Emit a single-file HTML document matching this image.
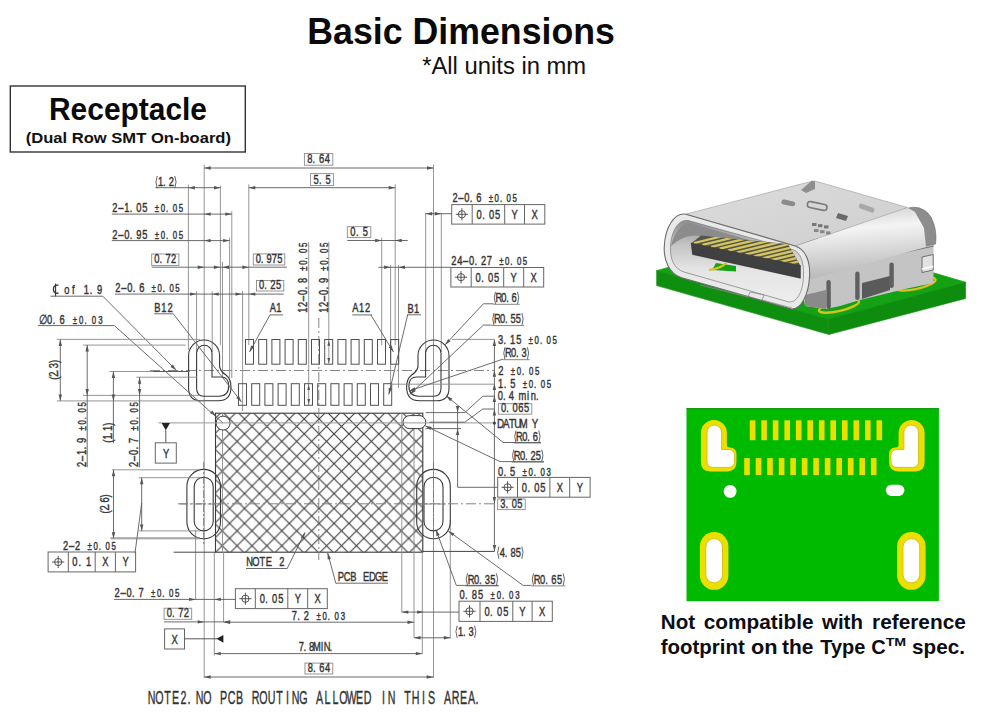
<!DOCTYPE html>
<html><head><meta charset="utf-8"><style>
html,body{margin:0;padding:0;background:#fff;}
body{width:1000px;height:715px;overflow:hidden;position:relative;}
svg{position:absolute;left:0;top:0;}
</style></head><body>
<svg width="1000" height="715" viewBox="0 0 1000 715">
<defs>
<pattern id="hatch" patternUnits="userSpaceOnUse" width="14.92" height="14.92" x="5.8" y="1.2">
<path d="M0,0 L14.92,14.92 M0,14.92 L14.92,0 M-1,1 L1,-1 M13.92,15.92 L15.92,13.92 M-1,13.92 L1,15.92 M13.92,-1 L15.92,1" stroke="#3c3c3c" stroke-width="1.1"/>
</pattern>
</defs>
<rect width="1000" height="715" fill="#fff"/>
<text x="307.3" y="44.2" font-family="Liberation Sans" font-size="36.9" font-weight="bold" fill="#0a0a0a" text-anchor="start" textLength="307.6" lengthAdjust="spacingAndGlyphs">Basic Dimensions</text>
<text x="422.2" y="74.4" font-family="Liberation Sans" font-size="24.8" font-weight="normal" fill="#111" text-anchor="start" textLength="164.0" lengthAdjust="spacingAndGlyphs">*All units in mm</text>
<rect x="10.3" y="86" width="235" height="66" fill="none" stroke="#333" stroke-width="1.4"/>
<text x="49.0" y="119.7" font-family="Liberation Sans" font-size="30.8" font-weight="bold" fill="#0a0a0a" text-anchor="start" textLength="158.0" lengthAdjust="spacingAndGlyphs">Receptacle</text>
<text x="25.7" y="143.0" font-family="Liberation Sans" font-size="15" font-weight="bold" fill="#111" text-anchor="start" textLength="205.3" lengthAdjust="spacingAndGlyphs">(Dual Row SMT On-board)</text>
<rect x="215.5" y="413.2" width="207.3" height="139" fill="url(#hatch)" stroke="#3a3a3a" stroke-width="1.1"/>
<line x1="188.4" y1="184.5" x2="188.4" y2="350.0" stroke="#8a8a8a" stroke-width="0.9"/>
<line x1="196.6" y1="291.3" x2="196.6" y2="352.0" stroke="#8a8a8a" stroke-width="0.9"/>
<line x1="220.4" y1="185.7" x2="220.4" y2="345.0" stroke="#8a8a8a" stroke-width="0.9"/>
<line x1="222.5" y1="262.0" x2="222.5" y2="378.0" stroke="#8a8a8a" stroke-width="0.9"/>
<line x1="229.6" y1="237.6" x2="229.6" y2="378.0" stroke="#8a8a8a" stroke-width="0.9"/>
<line x1="231.8" y1="211.2" x2="231.8" y2="378.0" stroke="#8a8a8a" stroke-width="0.9"/>
<line x1="212.2" y1="291.3" x2="212.2" y2="352.0" stroke="#8a8a8a" stroke-width="0.9"/>
<line x1="242.6" y1="291.0" x2="242.6" y2="411.0" stroke="#8a8a8a" stroke-width="0.9"/>
<line x1="248.8" y1="184.3" x2="248.8" y2="345.0" stroke="#8a8a8a" stroke-width="0.9"/>
<line x1="381.7" y1="237.6" x2="381.7" y2="345.0" stroke="#8a8a8a" stroke-width="0.9"/>
<line x1="390.6" y1="265.0" x2="390.6" y2="388.0" stroke="#8a8a8a" stroke-width="0.9"/>
<line x1="395.2" y1="184.3" x2="395.2" y2="345.0" stroke="#8a8a8a" stroke-width="0.9"/>
<line x1="398.5" y1="265.0" x2="398.5" y2="388.0" stroke="#8a8a8a" stroke-width="0.9"/>
<line x1="425.7" y1="213.0" x2="425.7" y2="352.0" stroke="#8a8a8a" stroke-width="0.9"/>
<line x1="441.3" y1="213.0" x2="441.3" y2="352.0" stroke="#8a8a8a" stroke-width="0.9"/>
<line x1="308.7" y1="241.8" x2="308.7" y2="405.3" stroke="#8a8a8a" stroke-width="0.9"/>
<line x1="328.8" y1="241.8" x2="328.8" y2="364.2" stroke="#8a8a8a" stroke-width="0.9"/>
<line x1="401.8" y1="413.0" x2="401.8" y2="612.0" stroke="#8a8a8a" stroke-width="0.9"/>
<line x1="414.0" y1="413.0" x2="414.0" y2="637.8" stroke="#8a8a8a" stroke-width="0.9"/>
<line x1="222.5" y1="413.0" x2="222.5" y2="552.0" stroke="#8a8a8a" stroke-width="0.9"/>
<line x1="422.3" y1="552.0" x2="422.3" y2="653.6" stroke="#8a8a8a" stroke-width="0.9"/>
<line x1="450.3" y1="520.0" x2="450.3" y2="638.6" stroke="#8a8a8a" stroke-width="0.9"/>
<line x1="195.6" y1="530.0" x2="195.6" y2="600.0" stroke="#8a8a8a" stroke-width="0.9"/>
<line x1="214.3" y1="552.0" x2="214.3" y2="655.5" stroke="#8a8a8a" stroke-width="0.9"/>
<line x1="223.6" y1="552.0" x2="223.6" y2="622.0" stroke="#8a8a8a" stroke-width="0.9"/>
<line x1="204.2" y1="164.7" x2="204.2" y2="678.0" stroke="#8a8a8a" stroke-width="0.9"/>
<line x1="433.5" y1="164.7" x2="433.5" y2="678.0" stroke="#8a8a8a" stroke-width="0.9"/>
<line x1="318.8" y1="318.0" x2="318.8" y2="560.0" stroke="#777" stroke-width="0.9" stroke-dasharray="10,3,2,3"/>
<line x1="150.0" y1="370.5" x2="494.0" y2="370.5" stroke="#888" stroke-width="1.0" stroke-dasharray="10,3,2,3"/>
<rect x="245.5" y="339.5" width="8" height="24.7" fill="none" stroke="#505050" stroke-width="1.0"/>
<rect x="238.5" y="383.7" width="8" height="21.6" fill="none" stroke="#505050" stroke-width="1.0"/>
<rect x="258.7" y="339.5" width="8" height="24.7" fill="none" stroke="#505050" stroke-width="1.0"/>
<rect x="251.7" y="383.7" width="8" height="21.6" fill="none" stroke="#505050" stroke-width="1.0"/>
<rect x="271.9" y="339.5" width="8" height="24.7" fill="none" stroke="#505050" stroke-width="1.0"/>
<rect x="264.9" y="383.7" width="8" height="21.6" fill="none" stroke="#505050" stroke-width="1.0"/>
<rect x="285.1" y="339.5" width="8" height="24.7" fill="none" stroke="#505050" stroke-width="1.0"/>
<rect x="278.1" y="383.7" width="8" height="21.6" fill="none" stroke="#505050" stroke-width="1.0"/>
<rect x="298.3" y="339.5" width="8" height="24.7" fill="none" stroke="#505050" stroke-width="1.0"/>
<rect x="291.3" y="383.7" width="8" height="21.6" fill="none" stroke="#505050" stroke-width="1.0"/>
<rect x="311.5" y="339.5" width="8" height="24.7" fill="none" stroke="#505050" stroke-width="1.0"/>
<rect x="304.5" y="383.7" width="8" height="21.6" fill="none" stroke="#505050" stroke-width="1.0"/>
<rect x="324.7" y="339.5" width="8" height="24.7" fill="none" stroke="#505050" stroke-width="1.0"/>
<rect x="317.7" y="383.7" width="8" height="21.6" fill="none" stroke="#505050" stroke-width="1.0"/>
<rect x="337.9" y="339.5" width="8" height="24.7" fill="none" stroke="#505050" stroke-width="1.0"/>
<rect x="330.9" y="383.7" width="8" height="21.6" fill="none" stroke="#505050" stroke-width="1.0"/>
<rect x="351.1" y="339.5" width="8" height="24.7" fill="none" stroke="#505050" stroke-width="1.0"/>
<rect x="344.1" y="383.7" width="8" height="21.6" fill="none" stroke="#505050" stroke-width="1.0"/>
<rect x="364.3" y="339.5" width="8" height="24.7" fill="none" stroke="#505050" stroke-width="1.0"/>
<rect x="357.3" y="383.7" width="8" height="21.6" fill="none" stroke="#505050" stroke-width="1.0"/>
<rect x="377.5" y="339.5" width="8" height="24.7" fill="none" stroke="#505050" stroke-width="1.0"/>
<rect x="370.5" y="383.7" width="8" height="21.6" fill="none" stroke="#505050" stroke-width="1.0"/>
<rect x="390.7" y="339.5" width="8" height="24.7" fill="none" stroke="#505050" stroke-width="1.0"/>
<rect x="383.7" y="383.7" width="8" height="21.6" fill="none" stroke="#505050" stroke-width="1.0"/>
<polygon points="308.7,384.5 310.1,390.0 307.3,390.0" fill="#555"/>
<polygon points="308.7,404.5 307.3,399.0 310.1,399.0" fill="#555"/>
<polygon points="328.8,340.3 330.2,345.8 327.4,345.8" fill="#555"/>
<polygon points="328.8,363.4 327.4,357.9 330.2,357.9" fill="#555"/>
<g><path d="M188.6,355.5 A15.5,15.5 0 0 1 219.6,355.5 L219.6,367 Q221,372 226,375 Q231,379 231,387 Q231,400.8 218,400.8 L201,400.8 Q188.6,400.8 188.6,388 Z" fill="none" stroke="#3a3a3a" stroke-width="1.1"/><path d="M196.6,353 A7.7,7.7 0 0 1 212,353 L212,377 L221,377 Q228.7,377 228.7,386 Q228.7,396.2 219,396.2 L204,396.2 Q196.6,396.2 196.6,388 Z" fill="none" stroke="#3a3a3a" stroke-width="1.1"/></g>
<g transform="translate(637.6,0) scale(-1,1)"><path d="M188.6,355.5 A15.5,15.5 0 0 1 219.6,355.5 L219.6,367 Q221,372 226,375 Q231,379 231,387 Q231,400.8 218,400.8 L201,400.8 Q188.6,400.8 188.6,388 Z" fill="none" stroke="#3a3a3a" stroke-width="1.1"/><path d="M196.6,353 A7.7,7.7 0 0 1 212,353 L212,377 L221,377 Q228.7,377 228.7,386 Q228.7,396.2 219,396.2 L204,396.2 Q196.6,396.2 196.6,388 Z" fill="none" stroke="#3a3a3a" stroke-width="1.1"/></g>
<rect x="186.9" y="469.4" width="33.6" height="69.4" rx="16.8" ry="16.8" fill="none" stroke="#3a3a3a" stroke-width="1.1"/>
<rect x="194.2" y="477.2" width="19" height="53.7" rx="9.5" ry="9.5" fill="none" stroke="#3a3a3a" stroke-width="1.1"/>
<line x1="203.7" y1="462.0" x2="203.7" y2="545.0" stroke="#777" stroke-width="0.9" stroke-dasharray="8,2,2,2"/>
<line x1="179.7" y1="504.0" x2="217.7" y2="504.0" stroke="#777" stroke-width="0.9" stroke-dasharray="8,2,2,2"/>
<rect x="416.7" y="469.4" width="33.6" height="69.4" rx="16.8" ry="16.8" fill="none" stroke="#3a3a3a" stroke-width="1.1"/>
<rect x="424.0" y="477.2" width="19" height="53.7" rx="9.5" ry="9.5" fill="none" stroke="#3a3a3a" stroke-width="1.1"/>
<line x1="433.5" y1="462.0" x2="433.5" y2="545.0" stroke="#777" stroke-width="0.9" stroke-dasharray="8,2,2,2"/>
<line x1="409.5" y1="504.0" x2="447.5" y2="504.0" stroke="#777" stroke-width="0.9" stroke-dasharray="8,2,2,2"/>
<circle cx="223.1" cy="423.1" r="7" fill="#fff" stroke="#3a3a3a" stroke-width="1.0"/>
<rect x="403" y="415.6" width="22.8" height="13" rx="6.5" fill="#fff" stroke="#3a3a3a" stroke-width="1.0"/>
<line x1="204.2" y1="168.0" x2="433.5" y2="168.0" stroke="#5a5a5a" stroke-width="0.9"/>
<polygon points="204.2,168.0 210.7,166.3 210.7,169.7" fill="#555"/>
<polygon points="433.5,168.0 427.0,169.7 427.0,166.3" fill="#555"/>
<rect x="304.4" y="153.6" width="28.4" height="11.6" fill="none" stroke="#8a8a8a" stroke-width="0.9"/>
<text transform="translate(306.80,163.20) scale(0.74,1)" x="3.99 9.57 19.93 27.91" y="0" font-family="Liberation Sans" font-size="12.6" fill="#343434" stroke="#343434" stroke-width="0.42" text-anchor="middle">8.64</text>
<line x1="248.8" y1="187.7" x2="395.2" y2="187.7" stroke="#5a5a5a" stroke-width="0.9"/>
<polygon points="248.8,187.7 255.3,186.0 255.3,189.4" fill="#555"/>
<polygon points="395.2,187.7 388.7,189.4 388.7,186.0" fill="#555"/>
<rect x="310.6" y="173.6" width="22.8" height="12.0" fill="none" stroke="#8a8a8a" stroke-width="0.9"/>
<text transform="translate(313.00,183.60) scale(0.74,1)" x="4.05 9.73 20.27" y="0" font-family="Liberation Sans" font-size="12.6" fill="#343434" stroke="#343434" stroke-width="0.42" text-anchor="middle">5.5</text>
<line x1="155.4" y1="187.7" x2="220.5" y2="187.7" stroke="#5a5a5a" stroke-width="0.9"/>
<polygon points="188.4,187.7 194.9,186.0 194.9,189.4" fill="#555"/>
<polygon points="220.5,187.7 214.0,189.4 214.0,186.0" fill="#555"/>
<path d="M157.2,176.0 Q154.7,181.6 157.2,188.2" fill="none" stroke="#555" stroke-width="0.9"/>
<path d="M174.8,176.0 Q177.3,181.6 174.8,188.2" fill="none" stroke="#555" stroke-width="0.9"/>
<text transform="translate(158.00,186.20) scale(0.74,1)" x="3.60 8.65 18.02" y="0" font-family="Liberation Sans" font-size="12.6" fill="#343434" stroke="#343434" stroke-width="0.42" text-anchor="middle">1.2</text>
<line x1="111.8" y1="214.1" x2="231.8" y2="214.1" stroke="#5a5a5a" stroke-width="0.9"/>
<polygon points="204.2,214.1 210.7,212.4 210.7,215.8" fill="#555"/>
<polygon points="231.8,214.1 225.3,215.8 225.3,212.4" fill="#555"/>
<text transform="translate(111.80,212.00) scale(0.74,1)" x="4.07 12.20 20.33 26.02 36.59 44.72 52.85" y="0" font-family="Liberation Sans" font-size="12.6" fill="#343434" stroke="#343434" stroke-width="0.42" text-anchor="middle">2–1.05 </text>
<text transform="translate(153.92,212.00) scale(0.74,1)" x="4.07 12.20 17.89 28.46 36.59" y="0" font-family="Liberation Sans" font-size="10.6" fill="#343434" stroke="#343434" stroke-width="0.42" text-anchor="middle">±0.05</text>
<line x1="111.8" y1="240.6" x2="229.6" y2="240.6" stroke="#5a5a5a" stroke-width="0.9"/>
<polygon points="204.2,240.6 210.7,238.9 210.7,242.3" fill="#555"/>
<polygon points="229.6,240.6 223.1,242.3 223.1,238.9" fill="#555"/>
<text transform="translate(111.80,238.60) scale(0.74,1)" x="4.07 12.20 20.33 26.02 36.59 44.72 52.85" y="0" font-family="Liberation Sans" font-size="12.6" fill="#343434" stroke="#343434" stroke-width="0.42" text-anchor="middle">2–0.95 </text>
<text transform="translate(153.92,238.60) scale(0.74,1)" x="4.07 12.20 17.89 28.46 36.59" y="0" font-family="Liberation Sans" font-size="10.6" fill="#343434" stroke="#343434" stroke-width="0.42" text-anchor="middle">±0.05</text>
<line x1="151.7" y1="267.2" x2="286.9" y2="267.2" stroke="#5a5a5a" stroke-width="0.9"/>
<polygon points="204.2,267.2 197.7,268.9 197.7,265.5" fill="#555"/>
<polygon points="220.4,267.2 213.9,268.9 213.9,265.5" fill="#555"/>
<polygon points="222.5,267.2 229.0,265.5 229.0,268.9" fill="#555"/>
<polygon points="248.8,267.2 242.3,268.9 242.3,265.5" fill="#555"/>
<rect x="151.7" y="254.0" width="27.2" height="11.4" fill="none" stroke="#8a8a8a" stroke-width="0.9"/>
<text transform="translate(154.10,263.40) scale(0.74,1)" x="3.78 9.08 18.92 26.49" y="0" font-family="Liberation Sans" font-size="12.6" fill="#343434" stroke="#343434" stroke-width="0.42" text-anchor="middle">0.72</text>
<rect x="253.3" y="253.9" width="31.5" height="11.1" fill="none" stroke="#8a8a8a" stroke-width="0.9"/>
<text transform="translate(255.70,263.00) scale(0.74,1)" x="3.61 8.66 18.04 25.26 32.47" y="0" font-family="Liberation Sans" font-size="12.6" fill="#343434" stroke="#343434" stroke-width="0.42" text-anchor="middle">0.975</text>
<line x1="115.0" y1="294.1" x2="283.8" y2="294.1" stroke="#5a5a5a" stroke-width="0.9"/>
<polygon points="196.6,294.1 190.1,295.8 190.1,292.4" fill="#555"/>
<polygon points="212.2,294.1 218.7,292.4 218.7,295.8" fill="#555"/>
<polygon points="242.0,294.1 235.5,295.8 235.5,292.4" fill="#555"/>
<polygon points="248.8,294.1 255.3,292.4 255.3,295.8" fill="#555"/>
<text transform="translate(115.00,292.20) scale(0.74,1)" x="4.02 12.07 20.12 25.75 36.21 44.26" y="0" font-family="Liberation Sans" font-size="12.6" fill="#343434" stroke="#343434" stroke-width="0.42" text-anchor="middle">2–0.6 </text>
<text transform="translate(150.73,292.20) scale(0.74,1)" x="4.02 12.07 17.70 28.16 36.21" y="0" font-family="Liberation Sans" font-size="10.6" fill="#343434" stroke="#343434" stroke-width="0.42" text-anchor="middle">±0.05</text>
<rect x="256.5" y="280.5" width="27.3" height="10.5" fill="none" stroke="#8a8a8a" stroke-width="0.9"/>
<text transform="translate(258.90,289.00) scale(0.74,1)" x="3.80 9.12 19.00 26.60" y="0" font-family="Liberation Sans" font-size="12.6" fill="#343434" stroke="#343434" stroke-width="0.42" text-anchor="middle">0.25</text>
<text transform="translate(57.00,293.50) scale(0.74,1)" x="4.42 13.26 22.10 30.95 39.79 45.98 57.47" y="0" font-family="Liberation Sans" font-size="12.6" fill="#343434" stroke="#343434" stroke-width="0.42" text-anchor="middle"> of 1.9</text>
<path d="M58.5,285.2 Q53.2,284.6 53.4,289.4 Q53.6,293.6 58.6,293.2" fill="none" stroke="#333" stroke-width="1.3"/>
<line x1="55.6" y1="283.5" x2="55.6" y2="296.5" stroke="#333" stroke-width="1.1"/>
<line x1="50.4" y1="296.2" x2="102.8" y2="296.2" stroke="#5a5a5a" stroke-width="0.9"/>
<line x1="102.8" y1="296.2" x2="176.3" y2="370.3" stroke="#5a5a5a" stroke-width="0.9"/>
<polygon points="176.3,370.3 170.5,366.9 172.9,364.5" fill="#555"/>
<text transform="translate(40.00,323.50) scale(0.74,1)" x="4.29 12.87 18.88 30.03 38.61" y="0" font-family="Liberation Sans" font-size="12.6" fill="#343434" stroke="#343434" stroke-width="0.42" text-anchor="middle">∅0.6 </text>
<text transform="translate(71.75,323.50) scale(0.74,1)" x="4.29 12.87 18.88 30.03 38.61" y="0" font-family="Liberation Sans" font-size="10.6" fill="#343434" stroke="#343434" stroke-width="0.42" text-anchor="middle">±0.03</text>
<line x1="37.8" y1="325.6" x2="114.4" y2="325.6" stroke="#5a5a5a" stroke-width="0.9"/>
<line x1="114.4" y1="325.6" x2="223.0" y2="423.1" stroke="#5a5a5a" stroke-width="0.9"/>
<polygon points="216.0,416.0 210.0,412.9 212.3,410.4" fill="#555"/>
<text transform="translate(154.30,312.00) scale(0.74,1)" x="4.28 12.84 21.40" y="0" font-family="Liberation Sans" font-size="12.6" fill="#343434" stroke="#343434" stroke-width="0.42" text-anchor="middle">B12</text>
<line x1="154.3" y1="313.8" x2="173.3" y2="313.8" stroke="#5a5a5a" stroke-width="0.9"/>
<line x1="173.3" y1="313.8" x2="241.5" y2="402.0" stroke="#5a5a5a" stroke-width="0.9"/>
<polygon points="241.5,402.0 236.2,397.9 238.9,395.8" fill="#555"/>
<text transform="translate(270.00,312.00) scale(0.74,1)" x="3.99 11.96" y="0" font-family="Liberation Sans" font-size="12.6" fill="#343434" stroke="#343434" stroke-width="0.42" text-anchor="middle">A1</text>
<line x1="270.0" y1="314.9" x2="283.0" y2="314.9" stroke="#5a5a5a" stroke-width="0.9"/>
<line x1="270.0" y1="314.9" x2="249.5" y2="352.0" stroke="#5a5a5a" stroke-width="0.9"/>
<polygon points="249.5,352.0 251.1,345.5 254.1,347.1" fill="#555"/>
<text transform="translate(307.00,313.20) rotate(-90) scale(0.74,1)" x="4.02 12.06 20.10 28.14 33.77 44.22 52.26" y="0" font-family="Liberation Sans" font-size="12.6" fill="#343434" stroke="#343434" stroke-width="0.42" text-anchor="middle">12–0.8 </text>
<text transform="translate(307.00,271.55) rotate(-90) scale(0.74,1)" x="4.02 12.06 17.69 28.14 36.18" y="0" font-family="Liberation Sans" font-size="10.6" fill="#343434" stroke="#343434" stroke-width="0.42" text-anchor="middle">±0.05</text>
<text transform="translate(327.80,313.20) rotate(-90) scale(0.74,1)" x="4.02 12.06 20.10 28.14 33.77 44.22 52.26" y="0" font-family="Liberation Sans" font-size="12.6" fill="#343434" stroke="#343434" stroke-width="0.42" text-anchor="middle">12–0.9 </text>
<text transform="translate(327.80,271.55) rotate(-90) scale(0.74,1)" x="4.02 12.06 17.69 28.14 36.18" y="0" font-family="Liberation Sans" font-size="10.6" fill="#343434" stroke="#343434" stroke-width="0.42" text-anchor="middle">±0.05</text>
<text transform="translate(352.30,312.00) scale(0.74,1)" x="4.17 12.50 20.83" y="0" font-family="Liberation Sans" font-size="12.6" fill="#343434" stroke="#343434" stroke-width="0.42" text-anchor="middle">A12</text>
<line x1="352.3" y1="314.9" x2="372.0" y2="314.9" stroke="#5a5a5a" stroke-width="0.9"/>
<line x1="370.8" y1="314.9" x2="393.5" y2="352.0" stroke="#5a5a5a" stroke-width="0.9"/>
<polygon points="393.5,352.0 388.7,347.3 391.6,345.6" fill="#555"/>
<text transform="translate(407.70,312.60) scale(0.74,1)" x="4.02 12.06" y="0" font-family="Liberation Sans" font-size="12.6" fill="#343434" stroke="#343434" stroke-width="0.42" text-anchor="middle">B1</text>
<line x1="407.0" y1="314.8" x2="421.0" y2="314.8" stroke="#5a5a5a" stroke-width="0.9"/>
<line x1="407.7" y1="314.8" x2="388.8" y2="394.4" stroke="#5a5a5a" stroke-width="0.9"/>
<polygon points="388.8,394.4 388.7,387.7 392.0,388.5" fill="#555"/>
<rect x="347.3" y="226.7" width="23.5" height="10.9" fill="none" stroke="#8a8a8a" stroke-width="0.9"/>
<text transform="translate(349.70,235.60) scale(0.74,1)" x="4.21 10.11 21.06" y="0" font-family="Liberation Sans" font-size="12.6" fill="#343434" stroke="#343434" stroke-width="0.42" text-anchor="middle">0.5</text>
<line x1="347.3" y1="240.5" x2="407.7" y2="240.5" stroke="#5a5a5a" stroke-width="0.9"/>
<polygon points="381.7,240.5 375.2,242.2 375.2,238.8" fill="#555"/>
<polygon points="395.2,240.5 401.7,238.8 401.7,242.2" fill="#555"/>
<line x1="378.4" y1="267.3" x2="450.9" y2="267.3" stroke="#5a5a5a" stroke-width="0.9"/>
<polygon points="390.6,267.3 384.1,269.0 384.1,265.6" fill="#555"/>
<polygon points="398.5,267.3 405.0,265.6 405.0,269.0" fill="#555"/>
<text transform="translate(450.90,265.00) scale(0.74,1)" x="4.01 12.02 20.04 28.05 33.66 44.08 52.09 60.11" y="0" font-family="Liberation Sans" font-size="12.6" fill="#343434" stroke="#343434" stroke-width="0.42" text-anchor="middle">24–0.27 </text>
<text transform="translate(498.35,265.00) scale(0.74,1)" x="4.01 12.02 17.63 28.05 36.07" y="0" font-family="Liberation Sans" font-size="10.6" fill="#343434" stroke="#343434" stroke-width="0.42" text-anchor="middle">±0.05</text>
<rect x="450.9" y="267.5" width="92.8" height="19.5" fill="none" stroke="#666" stroke-width="1.0"/>
<line x1="471.2" y1="267.5" x2="471.2" y2="287.0" stroke="#666" stroke-width="1.0"/>
<line x1="503.7" y1="267.5" x2="503.7" y2="287.0" stroke="#666" stroke-width="1.0"/>
<line x1="523.7" y1="267.5" x2="523.7" y2="287.0" stroke="#666" stroke-width="1.0"/>
<circle cx="461.0" cy="277.2" r="3.6" fill="none" stroke="#444" stroke-width="0.9"/>
<line x1="454.9" y1="277.2" x2="467.1" y2="277.2" stroke="#444" stroke-width="0.9"/>
<line x1="461.0" y1="271.1" x2="461.0" y2="283.4" stroke="#444" stroke-width="0.9"/>
<text transform="translate(475.10,281.55) scale(0.74,1)" x="4.17 10.01 20.86 29.21" y="0" font-family="Liberation Sans" font-size="12.6" fill="#343434" stroke="#343434" stroke-width="0.42" text-anchor="middle">0.05</text>
<text transform="translate(510.70,281.55) scale(0.74,1)" x="4.05" y="0" font-family="Liberation Sans" font-size="12.6" fill="#343434" stroke="#343434" stroke-width="0.42" text-anchor="middle">Y</text>
<text transform="translate(530.70,281.55) scale(0.74,1)" x="4.05" y="0" font-family="Liberation Sans" font-size="12.6" fill="#343434" stroke="#343434" stroke-width="0.42" text-anchor="middle">X</text>
<line x1="425.7" y1="213.7" x2="451.7" y2="213.7" stroke="#5a5a5a" stroke-width="0.9"/>
<polygon points="425.7,213.7 432.2,212.0 432.2,215.4" fill="#555"/>
<polygon points="441.3,213.7 434.8,215.4 434.8,212.0" fill="#555"/>
<text transform="translate(452.00,202.00) scale(0.74,1)" x="4.04 12.11 20.18 25.83 36.32 44.39" y="0" font-family="Liberation Sans" font-size="12.6" fill="#343434" stroke="#343434" stroke-width="0.42" text-anchor="middle">2–0.6 </text>
<text transform="translate(487.84,202.00) scale(0.74,1)" x="4.04 12.11 17.76 28.25 36.32" y="0" font-family="Liberation Sans" font-size="10.6" fill="#343434" stroke="#343434" stroke-width="0.42" text-anchor="middle">±0.05</text>
<rect x="451.7" y="204.6" width="93.1" height="19.5" fill="none" stroke="#666" stroke-width="1.0"/>
<line x1="472.2" y1="204.6" x2="472.2" y2="224.1" stroke="#666" stroke-width="1.0"/>
<line x1="504.7" y1="204.6" x2="504.7" y2="224.1" stroke="#666" stroke-width="1.0"/>
<line x1="524.5" y1="204.6" x2="524.5" y2="224.1" stroke="#666" stroke-width="1.0"/>
<circle cx="461.9" cy="214.3" r="3.6" fill="none" stroke="#444" stroke-width="0.9"/>
<line x1="455.8" y1="214.3" x2="468.1" y2="214.3" stroke="#444" stroke-width="0.9"/>
<line x1="461.9" y1="208.2" x2="461.9" y2="220.4" stroke="#444" stroke-width="0.9"/>
<text transform="translate(476.10,218.65) scale(0.74,1)" x="4.17 10.01 20.86 29.21" y="0" font-family="Liberation Sans" font-size="12.6" fill="#343434" stroke="#343434" stroke-width="0.42" text-anchor="middle">0.05</text>
<text transform="translate(511.60,218.65) scale(0.74,1)" x="4.05" y="0" font-family="Liberation Sans" font-size="12.6" fill="#343434" stroke="#343434" stroke-width="0.42" text-anchor="middle">Y</text>
<text transform="translate(531.65,218.65) scale(0.74,1)" x="4.05" y="0" font-family="Liberation Sans" font-size="12.6" fill="#343434" stroke="#343434" stroke-width="0.42" text-anchor="middle">X</text>
<line x1="56.8" y1="339.4" x2="200.0" y2="339.4" stroke="#8a8a8a" stroke-width="0.9"/>
<line x1="83.0" y1="345.1" x2="185.7" y2="345.1" stroke="#8a8a8a" stroke-width="0.9"/>
<line x1="109.2" y1="371.5" x2="190.0" y2="371.5" stroke="#8a8a8a" stroke-width="0.9"/>
<line x1="136.4" y1="377.2" x2="197.0" y2="377.2" stroke="#8a8a8a" stroke-width="0.9"/>
<line x1="83.0" y1="395.4" x2="200.0" y2="395.4" stroke="#8a8a8a" stroke-width="0.9"/>
<line x1="56.8" y1="400.9" x2="205.0" y2="400.9" stroke="#8a8a8a" stroke-width="0.9"/>
<line x1="153.0" y1="371.5" x2="188.0" y2="371.5" stroke="#5a5a5a" stroke-width="1.0"/>
<line x1="60.3" y1="339.4" x2="60.3" y2="400.9" stroke="#5a5a5a" stroke-width="0.9"/>
<polygon points="60.3,339.4 62.0,345.9 58.6,345.9" fill="#555"/>
<polygon points="60.3,400.9 58.6,394.4 62.0,394.4" fill="#555"/>
<text transform="translate(58.40,380.30) rotate(-90) scale(0.74,1)" x="2.82 8.47 12.43 19.77 25.42" y="0" font-family="Liberation Sans" font-size="12.6" fill="#343434" stroke="#343434" stroke-width="0.42" text-anchor="middle">(2.3)</text>
<line x1="87.2" y1="345.1" x2="87.2" y2="467.3" stroke="#5a5a5a" stroke-width="0.9"/>
<polygon points="87.2,345.1 88.9,351.6 85.5,351.6" fill="#555"/>
<polygon points="87.2,395.4 85.5,388.9 88.9,388.9" fill="#555"/>
<text transform="translate(85.60,467.30) rotate(-90) scale(0.74,1)" x="4.05 12.16 20.27 25.95 36.49 44.59" y="0" font-family="Liberation Sans" font-size="12.6" fill="#343434" stroke="#343434" stroke-width="0.42" text-anchor="middle">2–1.9 </text>
<text transform="translate(85.60,431.30) rotate(-90) scale(0.74,1)" x="4.05 12.16 17.84 28.38 36.49" y="0" font-family="Liberation Sans" font-size="10.6" fill="#343434" stroke="#343434" stroke-width="0.42" text-anchor="middle">±0.05</text>
<line x1="113.4" y1="371.5" x2="113.4" y2="443.2" stroke="#5a5a5a" stroke-width="0.9"/>
<polygon points="113.4,371.5 115.1,378.0 111.7,378.0" fill="#555"/>
<polygon points="113.4,400.9 111.7,394.4 115.1,394.4" fill="#555"/>
<text transform="translate(111.80,443.20) rotate(-90) scale(0.74,1)" x="2.84 8.51 12.49 19.86 25.54" y="0" font-family="Liberation Sans" font-size="12.6" fill="#343434" stroke="#343434" stroke-width="0.42" text-anchor="middle">(1.1)</text>
<line x1="139.6" y1="377.2" x2="139.6" y2="467.3" stroke="#5a5a5a" stroke-width="0.9"/>
<polygon points="139.6,377.2 141.3,383.7 137.9,383.7" fill="#555"/>
<polygon points="139.6,395.4 137.9,388.9 141.3,388.9" fill="#555"/>
<text transform="translate(138.30,467.30) rotate(-90) scale(0.74,1)" x="4.05 12.16 20.27 25.95 36.49 44.59" y="0" font-family="Liberation Sans" font-size="12.6" fill="#343434" stroke="#343434" stroke-width="0.42" text-anchor="middle">2–0.7 </text>
<text transform="translate(138.30,431.30) rotate(-90) scale(0.74,1)" x="4.05 12.16 17.84 28.38 36.49" y="0" font-family="Liberation Sans" font-size="10.6" fill="#343434" stroke="#343434" stroke-width="0.42" text-anchor="middle">±0.05</text>
<line x1="158.4" y1="422.9" x2="494.4" y2="422.9" stroke="#9a9a9a" stroke-width="1.0"/>
<polygon points="161.6,422.9 170,422.9 165.8,430.2" fill="#222"/>
<line x1="165.8" y1="430.2" x2="165.8" y2="442.8" stroke="#444" stroke-width="0.9"/>
<rect x="155.3" y="442.8" width="21.0" height="20.3" fill="none" stroke="#666" stroke-width="1.0"/>
<text transform="translate(163.00,457.50) scale(0.74,1)" x="4.05" y="0" font-family="Liberation Sans" font-size="12.6" fill="#343434" stroke="#343434" stroke-width="0.42" text-anchor="middle">Y</text>
<line x1="111.9" y1="469.8" x2="200.0" y2="469.8" stroke="#8a8a8a" stroke-width="0.9"/>
<line x1="138.8" y1="477.7" x2="200.0" y2="477.7" stroke="#8a8a8a" stroke-width="0.9"/>
<line x1="138.8" y1="530.9" x2="200.0" y2="530.9" stroke="#8a8a8a" stroke-width="0.9"/>
<line x1="110.8" y1="538.8" x2="200.0" y2="538.8" stroke="#8a8a8a" stroke-width="0.9"/>
<line x1="113.5" y1="469.8" x2="113.5" y2="538.8" stroke="#5a5a5a" stroke-width="0.9"/>
<polygon points="113.5,469.8 115.2,476.3 111.8,476.3" fill="#555"/>
<polygon points="113.5,538.8 111.8,532.3 115.2,532.3" fill="#555"/>
<text transform="translate(109.00,514.00) rotate(-90) scale(0.74,1)" x="2.70 8.11 11.89 18.92 24.32" y="0" font-family="Liberation Sans" font-size="12.6" fill="#343434" stroke="#343434" stroke-width="0.42" text-anchor="middle">(2.6)</text>
<line x1="141.7" y1="477.7" x2="141.7" y2="530.9" stroke="#5a5a5a" stroke-width="0.9"/>
<polygon points="141.7,477.7 143.4,484.2 140.0,484.2" fill="#555"/>
<polygon points="141.7,530.9 140.0,524.4 143.4,524.4" fill="#555"/>
<line x1="135.0" y1="553.0" x2="141.7" y2="503.0" stroke="#5a5a5a" stroke-width="0.9"/>
<text transform="translate(62.50,550.20) scale(0.74,1)" x="4.08 12.23 20.38 28.54" y="0" font-family="Liberation Sans" font-size="12.6" fill="#343434" stroke="#343434" stroke-width="0.42" text-anchor="middle">2–2 </text>
<text transform="translate(86.63,550.20) scale(0.74,1)" x="4.08 12.23 17.94 28.54 36.69" y="0" font-family="Liberation Sans" font-size="10.6" fill="#343434" stroke="#343434" stroke-width="0.42" text-anchor="middle">±0.05</text>
<rect x="48.1" y="552.0" width="87.5" height="19.9" fill="none" stroke="#666" stroke-width="1.0"/>
<line x1="68.3" y1="552.0" x2="68.3" y2="571.9" stroke="#666" stroke-width="1.0"/>
<line x1="95.2" y1="552.0" x2="95.2" y2="571.9" stroke="#666" stroke-width="1.0"/>
<line x1="115.4" y1="552.0" x2="115.4" y2="571.9" stroke="#666" stroke-width="1.0"/>
<circle cx="58.2" cy="562.0" r="3.6" fill="none" stroke="#444" stroke-width="0.9"/>
<line x1="52.1" y1="562.0" x2="64.3" y2="562.0" stroke="#444" stroke-width="0.9"/>
<line x1="58.2" y1="555.9" x2="58.2" y2="568.1" stroke="#444" stroke-width="0.9"/>
<text transform="translate(71.53,566.25) scale(0.74,1)" x="4.60 11.05 23.02" y="0" font-family="Liberation Sans" font-size="12.6" fill="#343434" stroke="#343434" stroke-width="0.42" text-anchor="middle">0.1</text>
<text transform="translate(102.30,566.25) scale(0.74,1)" x="4.05" y="0" font-family="Liberation Sans" font-size="12.6" fill="#343434" stroke="#343434" stroke-width="0.42" text-anchor="middle">X</text>
<text transform="translate(122.50,566.25) scale(0.74,1)" x="4.05" y="0" font-family="Liberation Sans" font-size="12.6" fill="#343434" stroke="#343434" stroke-width="0.42" text-anchor="middle">Y</text>
<line x1="110.2" y1="537.8" x2="200.0" y2="537.8" stroke="#8a8a8a" stroke-width="0.9"/>
<line x1="173.6" y1="552.2" x2="215.5" y2="552.2" stroke="#444" stroke-width="1.0"/>
<line x1="422.8" y1="551.4" x2="494.5" y2="551.4" stroke="#444" stroke-width="1.0"/>
<polygon points="494.5,551.4 492.8,544.9 496.2,544.9" fill="#555"/>
<path d="M498.9,546.6 Q496.4,552.2 498.9,558.8" fill="none" stroke="#555" stroke-width="0.9"/>
<path d="M521.8,546.6 Q524.3,552.2 521.8,558.8" fill="none" stroke="#555" stroke-width="0.9"/>
<text transform="translate(499.70,556.80) scale(0.74,1)" x="3.60 8.64 17.99 25.19" y="0" font-family="Liberation Sans" font-size="12.6" fill="#343434" stroke="#343434" stroke-width="0.42" text-anchor="middle">4.85</text>
<text transform="translate(114.10,596.80) scale(0.74,1)" x="4.05 12.16 20.27 25.95 36.49 44.59" y="0" font-family="Liberation Sans" font-size="12.6" fill="#343434" stroke="#343434" stroke-width="0.42" text-anchor="middle">2–0.7 </text>
<text transform="translate(150.10,596.80) scale(0.74,1)" x="4.05 12.16 17.84 28.38 36.49" y="0" font-family="Liberation Sans" font-size="10.6" fill="#343434" stroke="#343434" stroke-width="0.42" text-anchor="middle">±0.05</text>
<line x1="114.1" y1="599.4" x2="235.4" y2="599.4" stroke="#5a5a5a" stroke-width="0.9"/>
<polygon points="195.6,599.4 189.1,601.1 189.1,597.7" fill="#555"/>
<polygon points="214.3,599.4 220.8,597.7 220.8,601.1" fill="#555"/>
<rect x="235.4" y="588.7" width="91.9" height="19.9" fill="none" stroke="#666" stroke-width="1.0"/>
<line x1="255.3" y1="588.7" x2="255.3" y2="608.6" stroke="#666" stroke-width="1.0"/>
<line x1="287.8" y1="588.7" x2="287.8" y2="608.6" stroke="#666" stroke-width="1.0"/>
<line x1="307.7" y1="588.7" x2="307.7" y2="608.6" stroke="#666" stroke-width="1.0"/>
<circle cx="245.4" cy="598.7" r="3.6" fill="none" stroke="#444" stroke-width="0.9"/>
<line x1="239.3" y1="598.7" x2="251.5" y2="598.7" stroke="#444" stroke-width="0.9"/>
<line x1="245.4" y1="592.6" x2="245.4" y2="604.8" stroke="#444" stroke-width="0.9"/>
<text transform="translate(259.20,602.95) scale(0.74,1)" x="4.17 10.01 20.86 29.21" y="0" font-family="Liberation Sans" font-size="12.6" fill="#343434" stroke="#343434" stroke-width="0.42" text-anchor="middle">0.05</text>
<text transform="translate(294.75,602.95) scale(0.74,1)" x="4.05" y="0" font-family="Liberation Sans" font-size="12.6" fill="#343434" stroke="#343434" stroke-width="0.42" text-anchor="middle">Y</text>
<text transform="translate(314.50,602.95) scale(0.74,1)" x="4.05" y="0" font-family="Liberation Sans" font-size="12.6" fill="#343434" stroke="#343434" stroke-width="0.42" text-anchor="middle">X</text>
<rect x="164.1" y="608.2" width="27.6" height="11.1" fill="none" stroke="#8a8a8a" stroke-width="0.9"/>
<text transform="translate(166.50,617.30) scale(0.74,1)" x="3.85 9.24 19.26 26.96" y="0" font-family="Liberation Sans" font-size="12.6" fill="#343434" stroke="#343434" stroke-width="0.42" text-anchor="middle">0.72</text>
<line x1="164.1" y1="621.9" x2="223.6" y2="621.9" stroke="#5a5a5a" stroke-width="0.9"/>
<polygon points="204.2,621.9 197.7,623.6 197.7,620.2" fill="#555"/>
<polygon points="223.6,621.9 230.1,620.2 230.1,623.6" fill="#555"/>
<line x1="223.6" y1="622.2" x2="414.0" y2="622.2" stroke="#5a5a5a" stroke-width="0.9"/>
<polygon points="223.6,622.2 230.1,620.5 230.1,623.9" fill="#555"/>
<polygon points="414.0,622.2 407.5,623.9 407.5,620.5" fill="#555"/>
<text transform="translate(291.30,620.10) scale(0.74,1)" x="4.10 9.84 20.50 28.69" y="0" font-family="Liberation Sans" font-size="12.6" fill="#343434" stroke="#343434" stroke-width="0.42" text-anchor="middle">7.2 </text>
<text transform="translate(315.57,620.10) scale(0.74,1)" x="4.10 12.30 18.04 28.69 36.89" y="0" font-family="Liberation Sans" font-size="10.6" fill="#343434" stroke="#343434" stroke-width="0.42" text-anchor="middle">±0.03</text>
<rect x="164.6" y="628.9" width="19.9" height="20.1" fill="none" stroke="#666" stroke-width="1.0"/>
<text transform="translate(171.50,643.50) scale(0.74,1)" x="4.05" y="0" font-family="Liberation Sans" font-size="12.6" fill="#343434" stroke="#343434" stroke-width="0.42" text-anchor="middle">X</text>
<line x1="184.5" y1="638.8" x2="217.0" y2="638.8" stroke="#444" stroke-width="0.9"/>
<polygon points="216.5,638.8 223.4,634.9 223.4,642.7" fill="#222"/>
<line x1="214.3" y1="653.6" x2="422.3" y2="653.6" stroke="#5a5a5a" stroke-width="0.9"/>
<polygon points="214.3,653.6 220.8,651.9 220.8,655.3" fill="#555"/>
<polygon points="422.3,653.6 415.8,655.3 415.8,651.9" fill="#555"/>
<text transform="translate(298.70,650.90) scale(0.74,1)" x="3.50 8.41 17.52 24.53 31.53 38.54 43.45" y="0" font-family="Liberation Sans" font-size="12.6" fill="#343434" stroke="#343434" stroke-width="0.42" text-anchor="middle">7.8MIN.</text>
<line x1="204.2" y1="677.0" x2="433.2" y2="677.0" stroke="#5a5a5a" stroke-width="0.9"/>
<polygon points="204.2,677.0 210.7,675.3 210.7,678.7" fill="#555"/>
<polygon points="433.2,677.0 426.7,678.7 426.7,675.3" fill="#555"/>
<rect x="305.0" y="663.1" width="27.8" height="10.9" fill="none" stroke="#8a8a8a" stroke-width="0.9"/>
<text transform="translate(307.40,672.00) scale(0.74,1)" x="3.89 9.32 19.43 27.20" y="0" font-family="Liberation Sans" font-size="12.6" fill="#343434" stroke="#343434" stroke-width="0.42" text-anchor="middle">8.64</text>
<text transform="translate(246.30,566.30) scale(0.74,1)" x="4.36 13.07 21.79 30.51 39.22 47.94" y="0" font-family="Liberation Sans" font-size="12.6" fill="#343434" stroke="#343434" stroke-width="0.42" text-anchor="middle">NOTE 2</text>
<line x1="246.0" y1="568.5" x2="287.2" y2="568.5" stroke="#5a5a5a" stroke-width="0.9"/>
<line x1="287.2" y1="568.5" x2="305.0" y2="532.3" stroke="#5a5a5a" stroke-width="0.9"/>
<polygon points="305.0,532.3 303.9,538.9 300.8,537.5" fill="#555"/>
<text transform="translate(337.70,581.30) scale(0.74,1)" x="4.26 12.77 21.28 29.80 38.31 46.82 55.34 63.85" y="0" font-family="Liberation Sans" font-size="12.6" fill="#343434" stroke="#343434" stroke-width="0.42" text-anchor="middle">PCB EDGE</text>
<line x1="335.8" y1="583.2" x2="388.0" y2="583.2" stroke="#5a5a5a" stroke-width="0.9"/>
<line x1="335.8" y1="583.2" x2="327.6" y2="552.7" stroke="#5a5a5a" stroke-width="0.9"/>
<polygon points="327.6,552.7 330.9,558.5 327.7,559.4" fill="#555"/>
<text transform="translate(147.50,704.20) scale(0.58,1)" x="6.90 20.69 34.48 48.28 62.07 71.72 89.66 103.45 117.24 131.03 144.83 158.62 172.41 186.21 200.00 213.79 227.59 241.38 255.17 268.97 282.76 296.55 310.34 324.14 337.93 351.72 365.52 379.31 393.10 406.90 420.69 434.48 448.28 462.07 475.86 489.66 503.45 517.24 531.03 544.83 558.62 568.28" y="0" font-family="Liberation Sans" font-size="18.4" fill="#343434" stroke="#343434" stroke-width="0.42" text-anchor="middle">NOTE2.NO PCB ROUTING ALLOWED IN THIS AREA.</text>
<text transform="translate(459.00,599.00) scale(0.74,1)" x="4.15 9.96 20.74 29.04 37.34" y="0" font-family="Liberation Sans" font-size="12.6" fill="#343434" stroke="#343434" stroke-width="0.42" text-anchor="middle">0.85 </text>
<text transform="translate(489.70,599.00) scale(0.74,1)" x="4.15 12.45 18.25 29.04 37.34" y="0" font-family="Liberation Sans" font-size="10.6" fill="#343434" stroke="#343434" stroke-width="0.42" text-anchor="middle">±0.03</text>
<line x1="401.8" y1="612.1" x2="459.0" y2="612.1" stroke="#5a5a5a" stroke-width="0.9"/>
<polygon points="401.8,612.1 408.3,610.4 408.3,613.8" fill="#555"/>
<polygon points="423.6,612.1 417.1,613.8 417.1,610.4" fill="#555"/>
<rect x="459.0" y="601.2" width="93.3" height="20.2" fill="none" stroke="#666" stroke-width="1.0"/>
<line x1="480.0" y1="601.2" x2="480.0" y2="621.4" stroke="#666" stroke-width="1.0"/>
<line x1="512.8" y1="601.2" x2="512.8" y2="621.4" stroke="#666" stroke-width="1.0"/>
<line x1="532.1" y1="601.2" x2="532.1" y2="621.4" stroke="#666" stroke-width="1.0"/>
<circle cx="469.5" cy="611.3" r="3.6" fill="none" stroke="#444" stroke-width="0.9"/>
<line x1="463.4" y1="611.3" x2="475.6" y2="611.3" stroke="#444" stroke-width="0.9"/>
<line x1="469.5" y1="605.2" x2="469.5" y2="617.4" stroke="#444" stroke-width="0.9"/>
<text transform="translate(483.94,615.60) scale(0.74,1)" x="4.21 10.11 21.05 29.48" y="0" font-family="Liberation Sans" font-size="12.6" fill="#343434" stroke="#343434" stroke-width="0.42" text-anchor="middle">0.05</text>
<text transform="translate(519.45,615.60) scale(0.74,1)" x="4.05" y="0" font-family="Liberation Sans" font-size="12.6" fill="#343434" stroke="#343434" stroke-width="0.42" text-anchor="middle">Y</text>
<text transform="translate(539.20,615.60) scale(0.74,1)" x="4.05" y="0" font-family="Liberation Sans" font-size="12.6" fill="#343434" stroke="#343434" stroke-width="0.42" text-anchor="middle">X</text>
<line x1="414.0" y1="637.8" x2="450.3" y2="637.8" stroke="#5a5a5a" stroke-width="0.9"/>
<polygon points="414.0,637.8 420.5,636.1 420.5,639.5" fill="#555"/>
<polygon points="450.3,637.8 443.8,639.5 443.8,636.1" fill="#555"/>
<path d="M457.2,625.7 Q454.7,631.3 457.2,637.9" fill="none" stroke="#555" stroke-width="0.9"/>
<path d="M474.6,625.7 Q477.1,631.3 474.6,637.9" fill="none" stroke="#555" stroke-width="0.9"/>
<text transform="translate(458.00,635.90) scale(0.74,1)" x="3.56 8.54 17.79" y="0" font-family="Liberation Sans" font-size="12.6" fill="#343434" stroke="#343434" stroke-width="0.42" text-anchor="middle">1.3</text>
<path d="M467.5,573.4 Q465.0,579.0 467.5,585.6" fill="none" stroke="#555" stroke-width="0.9"/>
<path d="M496.4,573.4 Q498.9,579.0 496.4,585.6" fill="none" stroke="#555" stroke-width="0.9"/>
<text transform="translate(468.30,583.60) scale(0.74,1)" x="3.69 11.07 16.23 25.82 33.20" y="0" font-family="Liberation Sans" font-size="12.6" fill="#343434" stroke="#343434" stroke-width="0.42" text-anchor="middle">R0.35</text>
<line x1="465.3" y1="585.9" x2="498.6" y2="585.9" stroke="#777" stroke-width="0.9"/>
<line x1="456.3" y1="585.4" x2="498.6" y2="585.4" stroke="#5a5a5a" stroke-width="0.9"/>
<line x1="456.3" y1="585.4" x2="435.9" y2="529.5" stroke="#5a5a5a" stroke-width="0.9"/>
<polygon points="435.9,529.5 439.7,535.0 436.5,536.2" fill="#555"/>
<path d="M533.5,573.4 Q531.0,579.0 533.5,585.6" fill="none" stroke="#555" stroke-width="0.9"/>
<path d="M563.2,573.4 Q565.7,579.0 563.2,585.6" fill="none" stroke="#555" stroke-width="0.9"/>
<text transform="translate(534.30,583.60) scale(0.74,1)" x="3.80 11.39 16.71 26.58 34.18" y="0" font-family="Liberation Sans" font-size="12.6" fill="#343434" stroke="#343434" stroke-width="0.42" text-anchor="middle">R0.65</text>
<line x1="531.3" y1="585.9" x2="565.4" y2="585.9" stroke="#777" stroke-width="0.9"/>
<line x1="523.1" y1="585.4" x2="531.3" y2="585.4" stroke="#5a5a5a" stroke-width="0.9"/>
<line x1="523.1" y1="585.4" x2="448.2" y2="530.9" stroke="#5a5a5a" stroke-width="0.9"/>
<polygon points="448.2,530.9 454.5,533.4 452.4,536.1" fill="#555"/>
<line x1="494.4" y1="339.4" x2="494.4" y2="551.4" stroke="#5a5a5a" stroke-width="0.9"/>
<polygon points="494.4,339.4 496.1,345.9 492.7,345.9" fill="#555"/>
<polygon points="494.4,370.2 496.1,376.7 492.7,376.7" fill="#555"/>
<polygon points="494.4,383.4 496.1,389.9 492.7,389.9" fill="#555"/>
<polygon points="494.4,395.5 496.1,402.0 492.7,402.0" fill="#555"/>
<polygon points="494.4,409.0 496.1,415.5 492.7,415.5" fill="#555"/>
<polygon points="494.4,503.4 492.7,496.9 496.1,496.9" fill="#555"/>
<circle cx="494.4" cy="423.1" r="1.6" fill="#444"/>
<line x1="452.0" y1="339.4" x2="494.4" y2="339.4" stroke="#8a8a8a" stroke-width="0.9"/>
<line x1="391.0" y1="384.2" x2="494.4" y2="384.2" stroke="#8a8a8a" stroke-width="0.9"/>
<text transform="translate(497.70,343.80) scale(0.74,1)" x="4.06 9.75 20.30 28.43 36.55" y="0" font-family="Liberation Sans" font-size="12.6" fill="#343434" stroke="#343434" stroke-width="0.42" text-anchor="middle">3.15 </text>
<text transform="translate(527.75,343.80) scale(0.74,1)" x="4.06 12.18 17.87 28.43 36.55" y="0" font-family="Liberation Sans" font-size="10.6" fill="#343434" stroke="#343434" stroke-width="0.42" text-anchor="middle">±0.05</text>
<path d="M505.0,347.2 Q502.5,352.8 505.0,359.4" fill="none" stroke="#555" stroke-width="0.9"/>
<path d="M527.4,347.2 Q529.9,352.8 527.4,359.4" fill="none" stroke="#555" stroke-width="0.9"/>
<text transform="translate(505.80,357.40) scale(0.74,1)" x="3.51 10.54 15.46 24.59" y="0" font-family="Liberation Sans" font-size="12.6" fill="#343434" stroke="#343434" stroke-width="0.42" text-anchor="middle">R0.3</text>
<line x1="502.8" y1="359.7" x2="529.6" y2="359.7" stroke="#777" stroke-width="0.9"/>
<text transform="translate(497.70,374.60) scale(0.74,1)" x="4.10 12.31" y="0" font-family="Liberation Sans" font-size="12.6" fill="#343434" stroke="#343434" stroke-width="0.42" text-anchor="middle">2 </text>
<text transform="translate(509.84,374.60) scale(0.74,1)" x="4.10 12.31 18.05 28.72 36.92" y="0" font-family="Liberation Sans" font-size="10.6" fill="#343434" stroke="#343434" stroke-width="0.42" text-anchor="middle">±0.05</text>
<text transform="translate(497.70,387.80) scale(0.74,1)" x="4.08 9.78 20.38 28.54" y="0" font-family="Liberation Sans" font-size="12.6" fill="#343434" stroke="#343434" stroke-width="0.42" text-anchor="middle">1.5 </text>
<text transform="translate(521.83,387.80) scale(0.74,1)" x="4.08 12.23 17.94 28.54 36.69" y="0" font-family="Liberation Sans" font-size="10.6" fill="#343434" stroke="#343434" stroke-width="0.42" text-anchor="middle">±0.05</text>
<text transform="translate(497.70,399.90) scale(0.74,1)" x="3.72 8.92 18.58 26.01 33.45 40.88 48.31 53.51" y="0" font-family="Liberation Sans" font-size="12.6" fill="#343434" stroke="#343434" stroke-width="0.42" text-anchor="middle">0.4 min.</text>
<rect x="498.4" y="403.7" width="33.4" height="10.5" fill="none" stroke="#8a8a8a" stroke-width="0.9"/>
<text transform="translate(500.80,412.20) scale(0.74,1)" x="3.86 9.28 19.32 27.05 34.78" y="0" font-family="Liberation Sans" font-size="12.6" fill="#343434" stroke="#343434" stroke-width="0.42" text-anchor="middle">0.065</text>
<text transform="translate(497.70,427.50) scale(0.74,1)" x="3.89 11.67 19.45 27.23 35.01 42.79 50.57" y="0" font-family="Liberation Sans" font-size="13.2" fill="#343434" stroke="#343434" stroke-width="0.42" text-anchor="middle">DATUM Y</text>
<polyline points="494.4,396.2 482.8,396.2 464.8,412.6 425.8,412.6" stroke="#5a5a5a" stroke-width="0.9" fill="none"/>
<polyline points="494.4,409.0 482.8,409.0 464.8,422.2 429.4,422.2" stroke="#5a5a5a" stroke-width="0.9" fill="none"/>
<line x1="425.4" y1="428.6" x2="461.2" y2="428.6" stroke="#5a5a5a" stroke-width="0.9"/>
<line x1="457.6" y1="406.0" x2="457.6" y2="487.3" stroke="#5a5a5a" stroke-width="0.9"/>
<polygon points="457.6,412.6 455.9,406.1 459.3,406.1" fill="#555"/>
<polygon points="457.6,428.6 459.3,435.1 455.9,435.1" fill="#555"/>
<path d="M495.5,291.8 Q493.0,297.4 495.5,304.0" fill="none" stroke="#555" stroke-width="0.9"/>
<path d="M517.5,291.8 Q520.0,297.4 517.5,304.0" fill="none" stroke="#555" stroke-width="0.9"/>
<text transform="translate(496.30,302.00) scale(0.74,1)" x="3.45 10.34 15.16 24.12" y="0" font-family="Liberation Sans" font-size="12.6" fill="#343434" stroke="#343434" stroke-width="0.42" text-anchor="middle">R0.6</text>
<line x1="493.3" y1="304.3" x2="519.7" y2="304.3" stroke="#777" stroke-width="0.9"/>
<line x1="483.4" y1="303.8" x2="493.3" y2="303.8" stroke="#5a5a5a" stroke-width="0.9"/>
<line x1="483.4" y1="303.8" x2="444.9" y2="344.9" stroke="#5a5a5a" stroke-width="0.9"/>
<polygon points="444.9,344.9 448.1,339.0 450.6,341.3" fill="#555"/>
<path d="M494.0,313.1 Q491.5,318.7 494.0,325.3" fill="none" stroke="#555" stroke-width="0.9"/>
<path d="M521.9,313.1 Q524.4,318.7 521.9,325.3" fill="none" stroke="#555" stroke-width="0.9"/>
<text transform="translate(494.80,323.30) scale(0.74,1)" x="3.55 10.66 15.64 24.88 31.99" y="0" font-family="Liberation Sans" font-size="12.6" fill="#343434" stroke="#343434" stroke-width="0.42" text-anchor="middle">R0.55</text>
<line x1="491.8" y1="325.6" x2="524.1" y2="325.6" stroke="#777" stroke-width="0.9"/>
<line x1="483.4" y1="325.1" x2="491.8" y2="325.1" stroke="#5a5a5a" stroke-width="0.9"/>
<line x1="483.4" y1="325.1" x2="409.7" y2="394.4" stroke="#5a5a5a" stroke-width="0.9"/>
<polygon points="409.7,394.4 413.3,388.7 415.6,391.2" fill="#555"/>
<line x1="502.8" y1="359.2" x2="409.0" y2="391.0" stroke="#5a5a5a" stroke-width="0.9"/>
<polygon points="409.0,391.0 414.6,387.3 415.7,390.5" fill="#555"/>
<path d="M516.0,430.5 Q513.5,436.1 516.0,442.7" fill="none" stroke="#555" stroke-width="0.9"/>
<path d="M538.8,430.5 Q541.3,436.1 538.8,442.7" fill="none" stroke="#555" stroke-width="0.9"/>
<text transform="translate(516.80,440.70) scale(0.74,1)" x="3.58 10.74 15.76 25.07" y="0" font-family="Liberation Sans" font-size="12.6" fill="#343434" stroke="#343434" stroke-width="0.42" text-anchor="middle">R0.6</text>
<line x1="513.8" y1="443.0" x2="541.0" y2="443.0" stroke="#777" stroke-width="0.9"/>
<line x1="503.2" y1="442.5" x2="541.0" y2="442.5" stroke="#5a5a5a" stroke-width="0.9"/>
<line x1="503.2" y1="442.5" x2="446.2" y2="395.8" stroke="#5a5a5a" stroke-width="0.9"/>
<polygon points="446.2,395.8 452.3,398.6 450.1,401.2" fill="#555"/>
<path d="M513.8,449.6 Q511.3,455.2 513.8,461.8" fill="none" stroke="#555" stroke-width="0.9"/>
<path d="M541.7,449.6 Q544.2,455.2 541.7,461.8" fill="none" stroke="#555" stroke-width="0.9"/>
<text transform="translate(514.60,459.80) scale(0.74,1)" x="3.55 10.66 15.64 24.88 31.99" y="0" font-family="Liberation Sans" font-size="12.6" fill="#343434" stroke="#343434" stroke-width="0.42" text-anchor="middle">R0.25</text>
<line x1="511.6" y1="462.1" x2="543.9" y2="462.1" stroke="#777" stroke-width="0.9"/>
<line x1="500.0" y1="461.6" x2="543.9" y2="461.6" stroke="#5a5a5a" stroke-width="0.9"/>
<line x1="500.0" y1="461.6" x2="425.2" y2="425.8" stroke="#5a5a5a" stroke-width="0.9"/>
<polygon points="425.2,425.8 431.8,427.1 430.3,430.1" fill="#555"/>
<text transform="translate(497.70,475.90) scale(0.74,1)" x="4.05 9.71 20.23 28.33" y="0" font-family="Liberation Sans" font-size="12.6" fill="#343434" stroke="#343434" stroke-width="0.42" text-anchor="middle">0.5 </text>
<text transform="translate(521.66,475.90) scale(0.74,1)" x="4.05 12.14 17.80 28.33 36.42" y="0" font-family="Liberation Sans" font-size="10.6" fill="#343434" stroke="#343434" stroke-width="0.42" text-anchor="middle">±0.03</text>
<rect x="497.7" y="477.4" width="92.4" height="19.8" fill="none" stroke="#666" stroke-width="1.0"/>
<line x1="517.5" y1="477.4" x2="517.5" y2="497.2" stroke="#666" stroke-width="1.0"/>
<line x1="549.9" y1="477.4" x2="549.9" y2="497.2" stroke="#666" stroke-width="1.0"/>
<line x1="569.7" y1="477.4" x2="569.7" y2="497.2" stroke="#666" stroke-width="1.0"/>
<circle cx="507.6" cy="487.3" r="3.6" fill="none" stroke="#444" stroke-width="0.9"/>
<line x1="501.5" y1="487.3" x2="513.7" y2="487.3" stroke="#444" stroke-width="0.9"/>
<line x1="507.6" y1="481.2" x2="507.6" y2="493.4" stroke="#444" stroke-width="0.9"/>
<text transform="translate(521.39,491.60) scale(0.74,1)" x="4.16 9.98 20.80 29.12" y="0" font-family="Liberation Sans" font-size="12.6" fill="#343434" stroke="#343434" stroke-width="0.42" text-anchor="middle">0.05</text>
<text transform="translate(556.80,491.60) scale(0.74,1)" x="4.05" y="0" font-family="Liberation Sans" font-size="12.6" fill="#343434" stroke="#343434" stroke-width="0.42" text-anchor="middle">X</text>
<text transform="translate(576.90,491.60) scale(0.74,1)" x="4.05" y="0" font-family="Liberation Sans" font-size="12.6" fill="#343434" stroke="#343434" stroke-width="0.42" text-anchor="middle">Y</text>
<line x1="457.6" y1="487.3" x2="497.7" y2="487.3" stroke="#5a5a5a" stroke-width="0.9"/>
<rect x="497.7" y="499.0" width="27.5" height="10.6" fill="none" stroke="#8a8a8a" stroke-width="0.9"/>
<text transform="translate(500.10,507.60) scale(0.74,1)" x="3.83 9.20 19.17 26.84" y="0" font-family="Liberation Sans" font-size="12.6" fill="#343434" stroke="#343434" stroke-width="0.42" text-anchor="middle">3.05</text>
<line x1="178.0" y1="503.8" x2="494.4" y2="503.8" stroke="#777" stroke-width="0.9" stroke-dasharray="10,3,2,3"/>
<rect x="686.5" y="408" width="252.4" height="193.2" fill="#00ba00"/>
<line x1="686.5" y1="408.6" x2="938.9" y2="408.6" stroke="#139a13" stroke-width="1.2"/>
<rect x="749.8" y="420.3" width="5.6" height="19.9" fill="#ecdf00"/>
<rect x="744.2" y="458.1" width="5.6" height="17.0" fill="#ecdf00"/>
<rect x="761.3" y="420.3" width="5.6" height="19.9" fill="#ecdf00"/>
<rect x="755.7" y="458.1" width="5.6" height="17.0" fill="#ecdf00"/>
<rect x="772.8" y="420.3" width="5.6" height="19.9" fill="#ecdf00"/>
<rect x="767.2" y="458.1" width="5.6" height="17.0" fill="#ecdf00"/>
<rect x="784.4" y="420.3" width="5.6" height="19.9" fill="#ecdf00"/>
<rect x="778.8" y="458.1" width="5.6" height="17.0" fill="#ecdf00"/>
<rect x="795.9" y="420.3" width="5.6" height="19.9" fill="#ecdf00"/>
<rect x="790.3" y="458.1" width="5.6" height="17.0" fill="#ecdf00"/>
<rect x="807.4" y="420.3" width="5.6" height="19.9" fill="#ecdf00"/>
<rect x="801.8" y="458.1" width="5.6" height="17.0" fill="#ecdf00"/>
<rect x="818.9" y="420.3" width="5.6" height="19.9" fill="#ecdf00"/>
<rect x="813.3" y="458.1" width="5.6" height="17.0" fill="#ecdf00"/>
<rect x="830.4" y="420.3" width="5.6" height="19.9" fill="#ecdf00"/>
<rect x="824.8" y="458.1" width="5.6" height="17.0" fill="#ecdf00"/>
<rect x="842.0" y="420.3" width="5.6" height="19.9" fill="#ecdf00"/>
<rect x="836.4" y="458.1" width="5.6" height="17.0" fill="#ecdf00"/>
<rect x="853.5" y="420.3" width="5.6" height="19.9" fill="#ecdf00"/>
<rect x="847.9" y="458.1" width="5.6" height="17.0" fill="#ecdf00"/>
<rect x="865.0" y="420.3" width="5.6" height="19.9" fill="#ecdf00"/>
<rect x="859.4" y="458.1" width="5.6" height="17.0" fill="#ecdf00"/>
<rect x="876.5" y="420.3" width="5.6" height="19.9" fill="#ecdf00"/>
<rect x="870.9" y="458.1" width="5.6" height="17.0" fill="#ecdf00"/>
<g><path d="M700.9,433 A13,13 0 0 1 726.9,433 L726.9,445 Q726.9,447.5 730,447.5 Q736.5,447.5 736.5,455 L736.5,462 Q736.5,471.4 727,471.4 L710,471.4 Q700.9,471.4 700.9,462 Z" fill="#ecdf00"/><path d="M707,432.3 A7.3,7.3 0 0 1 721.6,432.3 L721.6,449.5 L728.5,449.5 Q734.5,449.5 734.5,455.5 L734.5,461 Q734.5,467.4 728.5,467.4 L713,467.4 Q707,467.4 707,461 Z" fill="#fff" stroke="#c9b800" stroke-width="0.8"/></g>
<g transform="translate(1625.5,0) scale(-1,1)"><path d="M700.9,433 A13,13 0 0 1 726.9,433 L726.9,445 Q726.9,447.5 730,447.5 Q736.5,447.5 736.5,455 L736.5,462 Q736.5,471.4 727,471.4 L710,471.4 Q700.9,471.4 700.9,462 Z" fill="#ecdf00"/><path d="M707,432.3 A7.3,7.3 0 0 1 721.6,432.3 L721.6,449.5 L728.5,449.5 Q734.5,449.5 734.5,455.5 L734.5,461 Q734.5,467.4 728.5,467.4 L713,467.4 Q707,467.4 707,461 Z" fill="#fff" stroke="#c9b800" stroke-width="0.8"/></g>
<circle cx="730.1" cy="491.4" r="6.4" fill="#fff"/>
<rect x="885.8" y="484.7" width="18.6" height="11.3" rx="5.65" fill="#fff"/>
<rect x="699.90" y="532" width="28.5" height="57.8" rx="14.25" fill="#ecdf00"/>
<rect x="705.80" y="538.6" width="16.7" height="44.3" rx="8.35" fill="#fff" stroke="#c9b800" stroke-width="0.8"/>
<rect x="897.10" y="532" width="28.5" height="57.8" rx="14.25" fill="#ecdf00"/>
<rect x="903.00" y="538.6" width="16.7" height="44.3" rx="8.35" fill="#fff" stroke="#c9b800" stroke-width="0.8"/>
<text x="660.8" y="629.0" font-family="Liberation Sans" font-size="19.3" font-weight="bold" fill="#0d0d14" text-anchor="start" textLength="34.3" lengthAdjust="spacingAndGlyphs">Not</text>
<text x="703.7" y="629.0" font-family="Liberation Sans" font-size="19.3" font-weight="bold" fill="#0d0d14" text-anchor="start" textLength="109.8" lengthAdjust="spacingAndGlyphs">compatible</text>
<text x="822.0" y="629.0" font-family="Liberation Sans" font-size="19.3" font-weight="bold" fill="#0d0d14" text-anchor="start" textLength="40.9" lengthAdjust="spacingAndGlyphs">with</text>
<text x="872.1" y="629.0" font-family="Liberation Sans" font-size="19.3" font-weight="bold" fill="#0d0d14" text-anchor="start" textLength="93.7" lengthAdjust="spacingAndGlyphs">reference</text>
<text x="660.8" y="654.0" font-family="Liberation Sans" font-size="19.3" font-weight="bold" fill="#0d0d14" text-anchor="start" textLength="83.9" lengthAdjust="spacingAndGlyphs">footprint</text>
<text x="750.9" y="654.0" font-family="Liberation Sans" font-size="19.3" font-weight="bold" fill="#0d0d14" text-anchor="start" textLength="26.6" lengthAdjust="spacingAndGlyphs">on</text>
<text x="782.1" y="654.0" font-family="Liberation Sans" font-size="19.3" font-weight="bold" fill="#0d0d14" text-anchor="start" textLength="31.4" lengthAdjust="spacingAndGlyphs">the</text>
<text x="820.3" y="654.0" font-family="Liberation Sans" font-size="19.3" font-weight="bold" fill="#0d0d14" text-anchor="start" textLength="45.1" lengthAdjust="spacingAndGlyphs">Type</text>
<text x="871.3" y="654.0" font-family="Liberation Sans" font-size="19.3" font-weight="bold" fill="#0d0d14" text-anchor="start" textLength="14.5" lengthAdjust="spacingAndGlyphs">C</text>
<text x="912.1" y="654.0" font-family="Liberation Sans" font-size="19.3" font-weight="bold" fill="#0d0d14" text-anchor="start" textLength="52.8" lengthAdjust="spacingAndGlyphs">spec.</text>
<text x="885.7" y="645.8" font-family="Liberation Sans" font-size="10.8" font-weight="bold" fill="#0d0d14" text-anchor="start" textLength="20.5" lengthAdjust="spacingAndGlyphs">TM</text>
<defs>
<linearGradient id="gTop" x1="0" y1="0" x2="1" y2="1"><stop offset="0" stop-color="#dcdcdc"/><stop offset="1" stop-color="#cfcfcf"/></linearGradient>
<linearGradient id="gSide" x1="0" y1="0" x2="0.15" y2="1"><stop offset="0" stop-color="#c9c9c9"/><stop offset="0.35" stop-color="#f4f4f4"/><stop offset="1" stop-color="#b8b8b8"/></linearGradient>
<linearGradient id="gWall" x1="0" y1="0" x2="0" y2="1"><stop offset="0" stop-color="#bdbdbd"/><stop offset="1" stop-color="#8f8f8f"/></linearGradient>
<linearGradient id="gIn" x1="0" y1="0" x2="0" y2="1"><stop offset="0" stop-color="#8c8c8c"/><stop offset="0.3" stop-color="#c4c4c4"/><stop offset="0.6" stop-color="#e4e4e4"/><stop offset="1" stop-color="#eeeeee"/></linearGradient>
</defs>
<polygon points="656.6,270.7 795.0,232.0 965.6,282.3 828.8,319.2" fill="#14a214" stroke="#14a214" stroke-width="0.8"/>
<polygon points="656.6,270.7 828.8,319.2 828.8,334.5 656.6,285.6" fill="#0f8f0f" stroke="#0f8f0f" stroke-width="0.6"/>
<polygon points="828.8,319.2 965.6,282.3 965.6,298.5 828.8,334.5" fill="#0d8c0d" stroke="#0d8c0d" stroke-width="0.6"/>
<ellipse cx="839" cy="306" rx="20.5" ry="5" transform="rotate(-13 839 306)" fill="none" stroke="#d7c21a" stroke-width="2.4"/>
<ellipse cx="916" cy="284" rx="20" ry="5" transform="rotate(-13 916 284)" fill="none" stroke="#d7c21a" stroke-width="2.4"/>
<polygon points="800.0,276.0 933.5,244.0 933.5,283.0 905.0,289.0 860.0,300.0 840.0,306.0 826.0,309.0 805.0,306.0" fill="#c4c4c4" stroke="none" stroke-width="0.8"/>
<polygon points="862.0,283.0 890.0,276.0 890.0,290.0 862.0,299.0" fill="#5a5a5a" stroke="none" stroke-width="0.8"/>
<polygon points="805.0,295.0 826.0,290.0 826.0,309.0 805.0,306.0" fill="#8a8a8a" stroke="none" stroke-width="0.8"/>
<rect x="826.4" y="280.0" width="4.4" height="29.0" rx="2.2" fill="#606060"/>
<rect x="855.2" y="271.5" width="4.4" height="28.5" rx="2.2" fill="#606060"/>
<rect x="889.4" y="262.5" width="4.4" height="25.5" rx="2.2" fill="#606060"/>
<polygon points="922.0,257.0 933.2,254.5 933.2,270.0 922.0,272.5" fill="#e2e2e2" stroke="#555" stroke-width="0.8"/>
<line x1="922.0" y1="269.0" x2="933.2" y2="266.5" stroke="#fff" stroke-width="1.5"/>
<line x1="805.0" y1="274.0" x2="933.8" y2="246.0" stroke="#6a6a6a" stroke-width="0.9"/>
<path d="M904,209 Q922,203 931,217 Q937.5,230 935.5,244 L924,246 Q923,223 904,209 Z" fill="#8d8d8d" stroke="#666" stroke-width="0.6"/>
<polygon points="795.2,246.0 907.4,207.5 915.0,212.0 924.0,228.0 926.0,247.0 808.4,280.0" fill="url(#gSide)" stroke="none" stroke-width="0.8"/>
<polygon points="685.7,214.2 805.0,183.0 815.0,181.0 907.4,207.5 795.2,246.0" fill="url(#gTop)" stroke="#9a9a9a" stroke-width="0.6"/>
<polygon points="801.0,190.0 812.0,180.5 815.0,181.5 815.0,189.0 806.0,193.0" fill="#8e8e8e" stroke="none" stroke-width="0.8"/>
<rect x="782" y="199" width="14" height="5" rx="2.5" transform="rotate(12 782 199)" fill="#8a8a8a"/>
<rect x="808" y="201" width="20" height="6" rx="3" transform="rotate(12 808 201)" fill="none" stroke="#7a7a7a" stroke-width="1.6"/>
<rect x="860" y="203" width="16" height="5" rx="2" transform="rotate(20 860 203)" fill="#a8a8a8"/>
<path d="M838,213 l10,3 l-2,5 l-10,-3 z" fill="#6a6a6a"/>
<rect x="812" y="223.0" width="4.5" height="3" fill="#777"/>
<rect x="814" y="229.0" width="4.5" height="3" fill="#888"/>
<rect x="818" y="224.2" width="4.5" height="3" fill="#777"/>
<rect x="820" y="230.2" width="4.5" height="3" fill="#888"/>
<rect x="824" y="225.4" width="4.5" height="3" fill="#777"/>
<rect x="826" y="231.4" width="4.5" height="3" fill="#888"/>
<path d="M685.7,214.2 L795.2,246 C806,249.5 810.5,262 809.5,277 C808.5,295 801,309.5 791.5,309 L680.9,277.5 C669,273.5 663.5,260 664.3,246.3 C665,228 674,212.5 685.7,214.2 Z" fill="#e9e9e9" stroke="#6c6c6c" stroke-width="1.1"/>
<path d="M688,220.5 L792.5,249.5 C801,252 804,263 803.5,276 C803,292 797,302.5 789,302 L684,272 C674,269 670,259 670.5,247 C671,232 678,219 688,220.5 Z" fill="url(#gIn)" stroke="#7a7a7a" stroke-width="0.7"/>
<path d="M671,246 C674,234 680,224 689,223 L792,252 C780,252 712,238 700,236 C690,234 680,238 671,246 Z" fill="#8c8c8c" stroke="none" stroke-width="0.8"/>
<polygon points="716.0,263.0 736.0,266.0 736.0,271.5 712.0,270.0" fill="#14a214" stroke="none" stroke-width="0.8"/>
<path d="M709,270 Q722,268 726,263" fill="none" stroke="#d9c21a" stroke-width="2.2"/>
<clipPath id="tclip"><polygon points="701,235.5 788,244 800.4,265.6 691.2,243.2"/></clipPath>
<polygon points="701.0,235.5 788.0,244.0 800.4,265.6 691.2,243.2" fill="#55554c" stroke="none" stroke-width="0.8"/>
<g clip-path="url(#tclip)">
<line x1="694.0" y1="243.0" x2="738.0" y2="232.5" stroke="#d6c65e" stroke-width="2.3"/>
<line x1="702.5" y1="244.9" x2="746.5" y2="234.4" stroke="#d6c65e" stroke-width="2.3"/>
<line x1="711.1" y1="246.8" x2="755.1" y2="236.3" stroke="#d6c65e" stroke-width="2.3"/>
<line x1="719.6" y1="248.7" x2="763.6" y2="238.2" stroke="#d6c65e" stroke-width="2.3"/>
<line x1="728.2" y1="250.6" x2="772.2" y2="240.1" stroke="#d6c65e" stroke-width="2.3"/>
<line x1="736.7" y1="252.5" x2="780.7" y2="242.0" stroke="#d6c65e" stroke-width="2.3"/>
<line x1="745.3" y1="254.5" x2="789.3" y2="244.0" stroke="#d6c65e" stroke-width="2.3"/>
<line x1="753.8" y1="256.4" x2="797.8" y2="245.9" stroke="#d6c65e" stroke-width="2.3"/>
<line x1="762.4" y1="258.3" x2="806.4" y2="247.8" stroke="#d6c65e" stroke-width="2.3"/>
<line x1="770.9" y1="260.2" x2="814.9" y2="249.7" stroke="#d6c65e" stroke-width="2.3"/>
<line x1="779.5" y1="262.1" x2="823.5" y2="251.6" stroke="#d6c65e" stroke-width="2.3"/>
<line x1="788.0" y1="264.0" x2="832.0" y2="253.5" stroke="#d6c65e" stroke-width="2.3"/>
</g>
<polygon points="691.2,243.2 800.4,265.6 800.4,278.2 692.6,254.4" fill="#404040" stroke="#2a2a2a" stroke-width="0.6"/>
<path d="M700,285 L748,297 l2,-5 l14,3 l-2,5 l30,8" fill="none" stroke="#8a8a8a" stroke-width="0.8"/>
</svg>
</body></html>
